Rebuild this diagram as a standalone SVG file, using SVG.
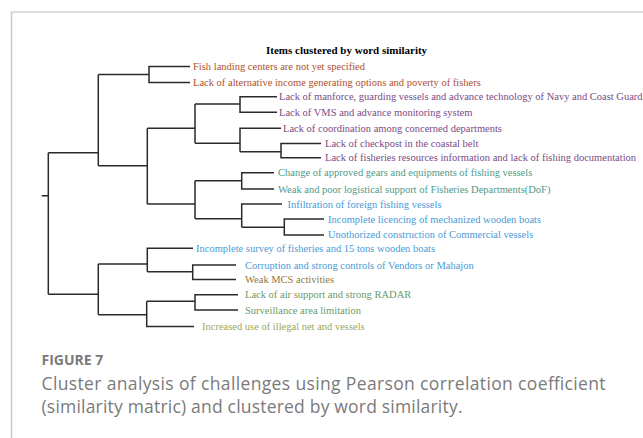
<svg xmlns="http://www.w3.org/2000/svg" width="643" height="438" viewBox="0 0 643 438">
<style>
.lbl{font-family:"Liberation Serif","Times New Roman",serif;font-size:10.5px}
.ttl{font-family:"Liberation Serif","Times New Roman",serif;font-size:11px;font-weight:bold;fill:#000}
.br{fill:#b0502c}.pu{fill:#7a4a85}.te{fill:#4f9a88}.bl{fill:#4a9ad6}.mc{fill:#8e7a3e}.gr{fill:#6a9a6a}.ol{fill:#9aa860}
.tree{fill:none;stroke:#2a2a2a;stroke-width:1.5}
.cap{font-family:"Open Sans","Liberation Sans",sans-serif;fill:#7a7a7a}
</style>
<rect width="643" height="438" fill="#fff"/>
<g id="frame">
<line x1="11" y1="12" x2="643" y2="12" stroke="#dddddd" stroke-width="2"/>
<line x1="11.5" y1="12" x2="11.5" y2="438" stroke="#c8c8c8" stroke-width="1.5"/>
</g>
<text class="ttl" x="266" y="54">Items clustered by word similarity</text>
<g id="connectors" class="tree">
<path d="M190,66.5H149V82.5H190M149,74.5H98.3"/>
<path d="M277,96.7H240V112.3H277M240,104H195"/>
<path d="M321,143.5H281V157.7H321M281,151.7H240"/>
<path d="M281,128.3H240V151.7M240,143.3H195"/>
<path d="M195,104V143.3M195,128.3H147.3"/>
<path d="M274,172.7H241.7V189H274M241.7,180.7H195"/>
<path d="M324,219H284.3V235H324M284.3,227.3H241.7"/>
<path d="M282,204H241.7V227.3M241.7,218.7H195"/>
<path d="M195,180.7V218.7M195,204H147.3"/>
<path d="M147.3,128.3V204M147.3,165.7H98.3"/>
<path d="M98.3,74.5V165.7M98.3,152.7H48.3"/>
<path d="M236,265H192.7V279.5H236M192.7,271.7H147.3"/>
<path d="M193,248.3H147.3V271.7M147.3,264H98.3"/>
<path d="M238,294.7H195V310H238M195,301.3H146.7"/>
<path d="M194,326.5H146.7V301.3M146.7,314.7H98.3"/>
<path d="M98.3,264V314.7M98.3,294.3H48.3"/>
<path d="M48.3,152.7V294.3M48.3,195.7H41.7"/>
</g>
<g id="n1"><text class="lbl br" x="193" y="70">Fish landing centers are not yet specified</text></g>
<g id="n2"><text class="lbl br" x="193" y="86">Lack of alternative income generating options and poverty of fishers</text></g>
<g id="n3"><text class="lbl pu" x="279" y="100.2">Lack of manforce, guarding vessels and advance technology of Navy and Coast Guard</text></g>
<g id="n4"><text class="lbl pu" x="279" y="115.8">Lack of VMS and advance monitoring system</text></g>
<g id="n5"><text class="lbl pu" x="283" y="131.8">Lack of coordination among concerned departments</text></g>
<g id="n6"><text class="lbl pu" x="325" y="147">Lack of checkpost in the coastal belt</text></g>
<g id="n7"><text class="lbl pu" x="325" y="161.2">Lack of fisheries resources information and lack of fishing documentation</text></g>
<g id="n8"><text class="lbl te" x="278" y="176.2">Change of approved gears and equipments of fishing vessels</text></g>
<g id="n9"><text class="lbl te" x="278" y="192.7">Weak and poor logistical support of Fisheries Departments(DoF)</text></g>
<g id="n10"><text class="lbl bl" x="287.5" y="207.5">Infiltration of foreign fishing vessels</text></g>
<g id="n11"><text class="lbl bl" x="328" y="222.5">Incomplete licencing of mechanized wooden boats</text></g>
<g id="n12"><text class="lbl bl" x="328" y="238">Unothorized construction of Commercial vessels</text></g>
<g id="n13"><text class="lbl bl" x="196" y="251.8">Incomplete survey of fisheries and 15 tons wooden boats</text></g>
<g id="n14"><text class="lbl bl" x="245" y="268.5">Corruption and strong controls of Vendors or Mahajon</text></g>
<g id="n15"><text class="lbl mc" x="245" y="283">Weak MCS activities</text></g>
<g id="n16"><text class="lbl gr" x="245" y="298.2">Lack of air support and strong RADAR</text></g>
<g id="n17"><text class="lbl gr" x="245" y="313.5">Surveillance area limitation</text></g>
<g id="n18"><text class="lbl ol" x="202" y="329.5">Increased use of illegal net and vessels</text></g>
<g id="caption">
<text class="cap" x="41.5" y="365" font-size="14" font-weight="bold" fill="#6d6d6d">FIGURE 7</text>
<text class="cap" x="41.5" y="390" font-size="17.5" textLength="564">Cluster analysis of challenges using Pearson correlation coefficient</text>
<text class="cap" x="41.5" y="413" font-size="17.5" textLength="421">(similarity matric) and clustered by word similarity.</text>
</g>
</svg>
